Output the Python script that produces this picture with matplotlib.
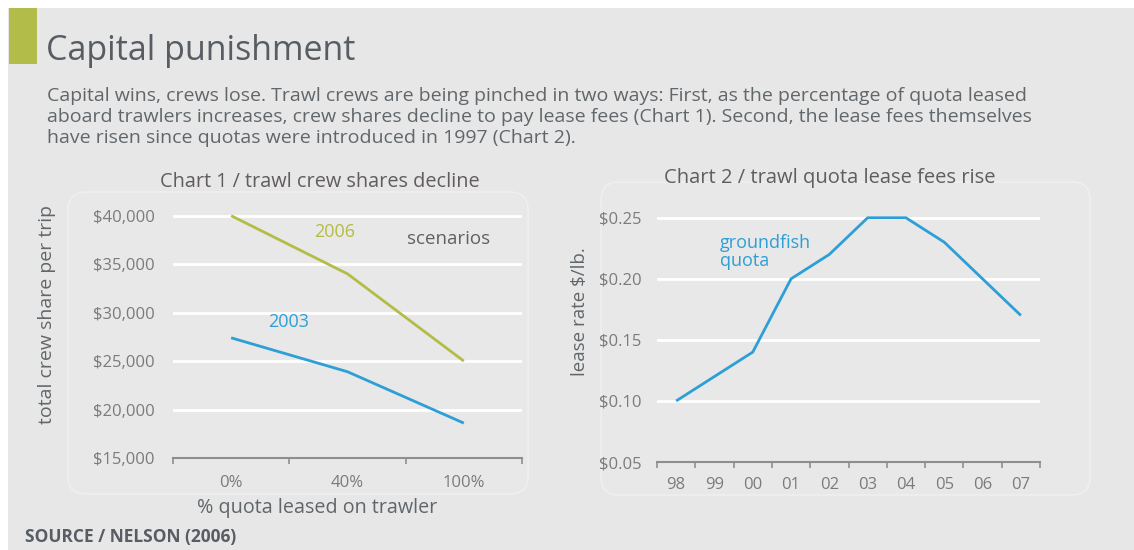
import matplotlib
matplotlib.use('Agg')
import matplotlib.pyplot as plt
from matplotlib.patches import Rectangle, FancyBboxPatch

plt.rcParams['font.family'] = ['Open Sans', 'DejaVu Sans']

# chart 1: crew share per trip by % quota leased
share_labels = ['0%', '40%', '100%']
crew_2006 = [40000, 34000, 25000]
crew_2003 = [27400, 23900, 18600]
crew_ticks = [15000, 20000, 25000, 30000, 35000, 40000]

# chart 2: groundfish quota lease rate by year
years = ['98', '99', '00', '01', '02', '03', '04', '05', '06', '07']
lease_rate = [0.10, 0.12, 0.14, 0.20, 0.22, 0.25, 0.25, 0.23, 0.20, 0.17]
rate_ticks = [0.05, 0.10, 0.15, 0.20, 0.25]

W, H = 1134, 550
BG = '#e6e7e6'
GREEN = '#b3bd45'
BLUE = '#2e9fd6'
TITLE_C = '#585c63'
TEXT_C = '#61666b'
TICK_C = '#7b7b7b'
AXIS_C = '#8e8e8e'


def fx(x):
    return x / W


def fy(y):
    return 1 - y / H


fig = plt.figure(figsize=(W / 100, H / 100), dpi=100)
fig.patch.set_facecolor('white')

# grey page + green marker
fig.patches.append(Rectangle((8, 0), W - 8, H - 8, transform=None,
                             facecolor=BG, edgecolor='none', zorder=-3))
fig.patches.append(Rectangle((9, H - 64), 28, 56, transform=None,
                             facecolor='#b2bc48', edgecolor='none', zorder=-2))

# rounded chart panels
for x0, y0, x1, y1 in [(68, 192, 528, 494), (601, 182, 1090, 495)]:
    fig.patches.append(FancyBboxPatch((x0, H - y1), x1 - x0, y1 - y0,
                                      boxstyle='round,pad=0,rounding_size=18',
                                      transform=None, facecolor='#e7e8e7',
                                      edgecolor='#eeefee', lw=1.2, zorder=-2))

fig.text(fx(46), fy(51), 'Capital punishment', fontsize=24.5, color=TITLE_C,
         va='center', ha='left')
body = ('Capital wins, crews lose. Trawl crews are being pinched in two ways: First, as the percentage of quota leased\n'
        'aboard trawlers increases, crew shares decline to pay lease fees (Chart 1). Second, the lease fees themselves\n'
        'have risen since quotas were introduced in 1997 (Chart 2).')
fig.text(fx(47), fy(117), body, fontsize=14, color=TEXT_C, va='center', ha='left',
         linespacing=1.2)

fig.text(fx(25), fy(537), 'SOURCE / NELSON (2006)', fontsize=12.5, fontweight='bold',
         color=TITLE_C, va='center', ha='left')


def style_axes(ax, ncat, labels, ypad, xpad):
    ax.set_facecolor('none')
    for s in ['left', 'right', 'top']:
        ax.spines[s].set_visible(False)
    ax.spines['bottom'].set_color(AXIS_C)
    ax.spines['bottom'].set_linewidth(1.5)
    ax.set_xlim(-0.5, ncat - 0.5)
    ax.set_xticks([i - 0.5 for i in range(ncat + 1)])
    ax.set_xticklabels([])
    ax.tick_params(axis='x', which='major', length=4, width=1.2, color=AXIS_C, direction='out')
    ax.set_xticks(range(ncat), minor=True)
    ax.set_xticklabels(labels, minor=True)
    ax.tick_params(axis='x', which='minor', length=0, pad=xpad, labelsize=12, labelcolor=TICK_C)
    ax.tick_params(axis='y', length=0, pad=ypad, labelsize=12, labelcolor=TICK_C)
    ax.grid(axis='y', color='white', lw=2)
    ax.set_axisbelow(True)


# chart 1
ax1 = fig.add_axes([fx(173), fy(458), (522 - 173) / W, (458 - 206) / H])
style_axes(ax1, len(share_labels), share_labels, 13, 12)
ax1.set_ylim(15000, 41000)
ax1.set_yticks(crew_ticks)
ax1.set_yticklabels(['${:,}'.format(v) for v in crew_ticks])
ax1.yaxis.get_gridlines()[0].set_visible(False)
ax1.plot(range(3), crew_2006, color=GREEN, lw=2, solid_capstyle='butt')
ax1.plot(range(3), crew_2003, color=BLUE, lw=2, solid_capstyle='butt')
ax1.text(0.89, 38300, '2006', color=GREEN, fontsize=13, ha='center', va='center')
ax1.text(1.87, 37600, 'scenarios', color='#5f6166', fontsize=13.5, ha='center', va='center')
ax1.text(0.49, 29000, '2003', color=BLUE, fontsize=13, ha='center', va='center')

fig.text(fx(320), fy(182), 'Chart 1 / trawl crew shares decline', fontsize=14.3,
         color='#605d5c', ha='center', va='center')
fig.text(fx(47), fy(315), 'total crew share per trip', fontsize=14, color=TEXT_C,
         rotation=90, ha='center', va='center')
fig.text(fx(317), fy(508), '% quota leased on trawler', fontsize=14.2, color=TEXT_C,
         ha='center', va='center')

# chart 2
ax2 = fig.add_axes([fx(657), fy(462), (1040 - 657) / W, (462 - 208) / H])
style_axes(ax2, len(years), years, 11, 11)
ax2.set_ylim(0.05, 0.258)
ax2.set_yticks(rate_ticks)
ax2.set_yticklabels(['${:.2f}'.format(v) for v in rate_ticks])
ax2.yaxis.get_gridlines()[0].set_visible(False)
ax2.plot(range(len(years)), lease_rate, color=BLUE, lw=2, solid_capstyle='butt')
ax2.text(1.15, 0.222, 'groundfish\nquota', color=BLUE, fontsize=13, ha='left',
         va='center', linespacing=0.95)

fig.text(fx(830), fy(178), 'Chart 2 / trawl quota lease fees rise', fontsize=14.5,
         color='#605d5c', ha='center', va='center')
fig.text(fx(580), fy(312), 'lease rate $/lb.', fontsize=13.5, color=TEXT_C,
         rotation=90, ha='center', va='center')

fig.savefig('out.png', dpi=100, facecolor=fig.get_facecolor())
